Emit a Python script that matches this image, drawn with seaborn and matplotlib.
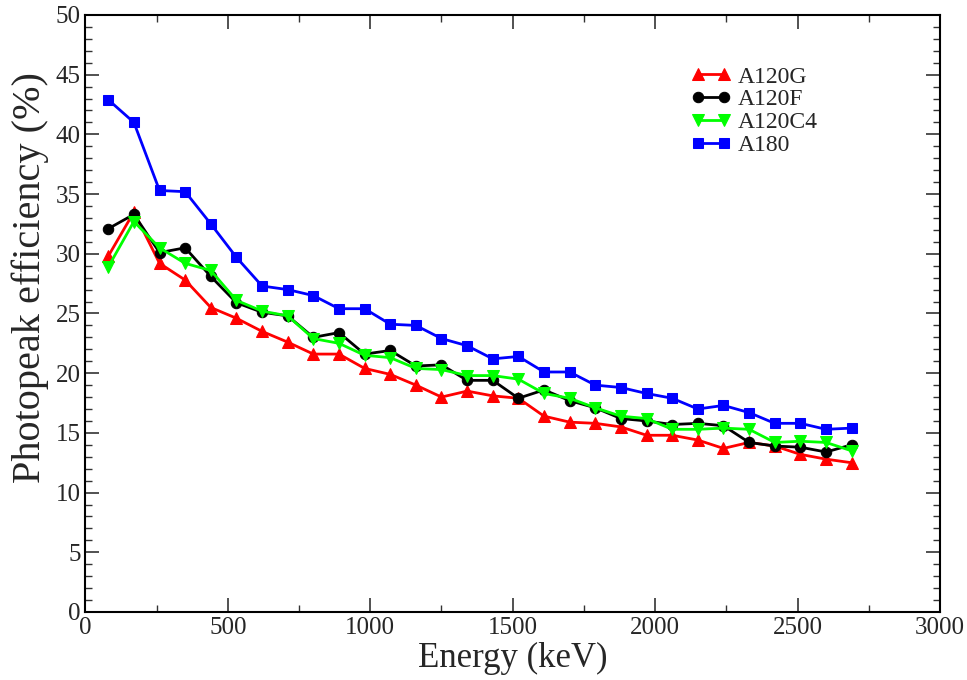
import matplotlib
matplotlib.use("Agg")
import matplotlib.pyplot as plt
import seaborn as sns
import numpy as np
from matplotlib.ticker import MultipleLocator

energy = [80, 170, 260, 350, 440, 530, 620, 710, 800, 890, 980, 1070, 1160, 1250, 1340,
          1430, 1520, 1610, 1700, 1790, 1880, 1970, 2060, 2150, 2240, 2330, 2420, 2510, 2600, 2690]

a120g = [29.8, 33.5, 29.2, 27.8, 25.5, 24.6, 23.5, 22.6, 21.6, 21.6, 20.4, 19.9, 19.0, 18.0, 18.5,
         18.1, 17.9, 16.4, 15.9, 15.8, 15.5, 14.8, 14.8, 14.4, 13.7, 14.2, 13.9, 13.2, 12.8, 12.5]
a120f = [32.1, 33.3, 30.1, 30.5, 28.1, 25.9, 25.1, 24.8, 23.0, 23.4, 21.6, 21.9, 20.6, 20.7, 19.4,
         19.4, 17.9, 18.6, 17.7, 17.1, 16.2, 16.0, 15.7, 15.8, 15.6, 14.2, 13.9, 13.8, 13.4, 14.0]
a120c4 = [28.9, 32.7, 30.5, 29.2, 28.6, 26.1, 25.2, 24.8, 22.9, 22.5, 21.5, 21.3, 20.4, 20.3, 19.8,
          19.8, 19.5, 18.3, 17.9, 17.1, 16.4, 16.2, 15.3, 15.3, 15.4, 15.3, 14.2, 14.3, 14.2, 13.5]
a180 = [42.9, 41.0, 35.3, 35.2, 32.5, 29.7, 27.3, 27.0, 26.5, 25.4, 25.4, 24.1, 24.0, 22.9, 22.3,
        21.2, 21.4, 20.1, 20.1, 19.0, 18.8, 18.3, 17.9, 17.0, 17.3, 16.7, 15.8, 15.8, 15.3, 15.4]

series_names = ["A120G", "A120F", "A120C4", "A180"]
series_vals = [a120g, a120f, a120c4, a180]
colors = ["#ff0000", "#000000", "#00ff00", "#0000ff"]
markers = ["^", "o", "v", "s"]
msizes = [9, 7.5, 9, 7]

sns.set_style("ticks")
plt.rcParams['font.family'] = ['Liberation Serif', 'DejaVu Serif']
plt.rcParams['mathtext.fontset'] = 'stix'

fig = plt.figure(figsize=(9.67, 6.8), dpi=100)
ax = fig.add_axes([0.0884, 0.1, 0.972 - 0.0884, 0.978 - 0.1])

for name, vals, c, m, ms in zip(series_names, series_vals, colors, markers, msizes):
    sns.lineplot(x=energy, y=vals, ax=ax, color=c, marker=m, markersize=ms,
                 markeredgecolor=c, markerfacecolor=c, linewidth=2.0, label=name,
                 sort=False, errorbar=None)

ax.set_xlim(0, 3000)
ax.set_ylim(0, 50)
ax.xaxis.set_major_locator(MultipleLocator(500))
ax.xaxis.set_minor_locator(MultipleLocator(250))
ax.yaxis.set_major_locator(MultipleLocator(5))
ax.yaxis.set_minor_locator(MultipleLocator(1))
ax.tick_params(which='both', direction='in', top=True, right=True, labelsize=18,
               color='#333333')
ax.tick_params(which='major', length=10, width=1.2)
ax.tick_params(which='minor', length=5, width=1.0)
for s in ax.spines.values():
    s.set_linewidth(1.5)
    s.set_color('black')

ax.set_xlabel("Energy (keV)", fontsize=25, labelpad=2)
ax.set_ylabel("Photopeak efficiency (%)", fontsize=29)
ax.yaxis.set_label_coords(-0.043, 0.56)

leg = ax.legend(loc='upper left', bbox_to_anchor=(0.697, 0.93), frameon=False, fontsize=17,
                handlelength=1.7, handletextpad=0.3, labelspacing=0.05, numpoints=2,
                borderaxespad=0)

fig.savefig("out.png", dpi=100)
